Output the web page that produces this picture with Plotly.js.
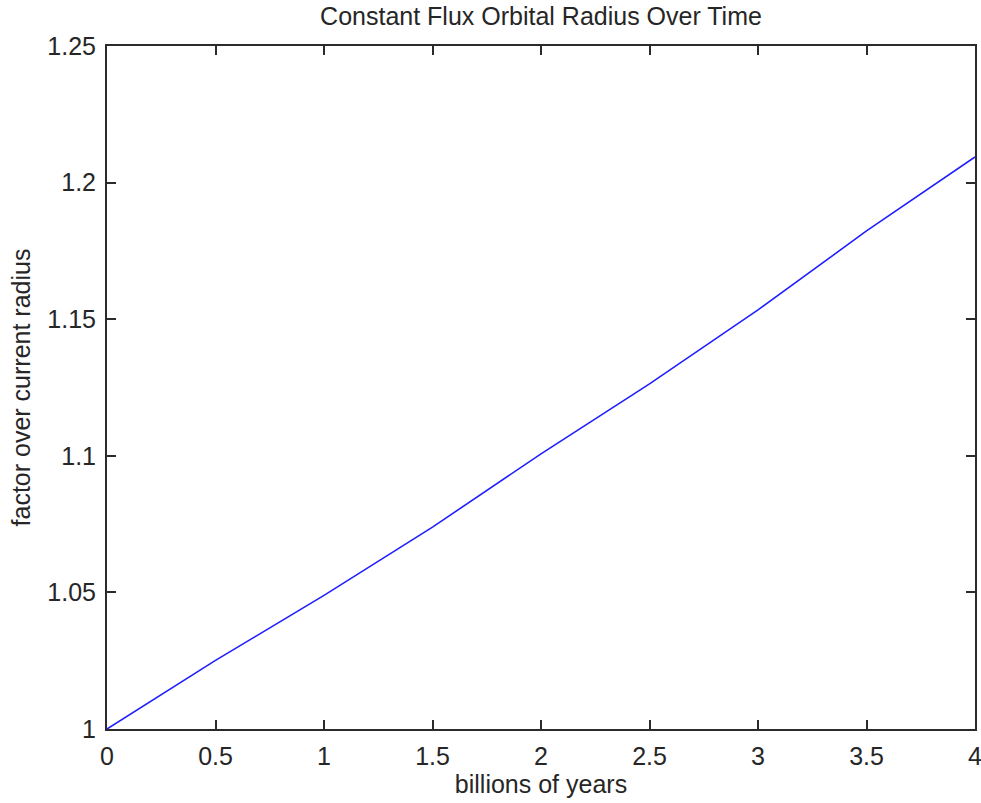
<!DOCTYPE html>
<html>
<head>
<meta charset="utf-8">
<script src="https://cdn.plot.ly/plotly-3.0.1.min.js"></script>
<style>
html,body{margin:0;padding:0;background:#fff;}
#chart{width:981px;height:803px;}
</style>
</head>
<body>
<div id="chart"></div>
<script>
// Data
const years = [0, 0.5, 1, 1.5, 2, 2.5, 3, 3.5, 4];
const radiusFactor = [1.0, 1.0251, 1.0489, 1.0739, 1.1007, 1.1263, 1.1534, 1.1823, 1.2094];
const xTickValues = [0, 0.5, 1, 1.5, 2, 2.5, 3, 3.5, 4];
const yTickValues = [1, 1.05, 1.1, 1.15, 1.2, 1.25];

const fontFamily = '"Liberation Sans", Arial, Helvetica, sans-serif';
const textColor = '#262626';
const axisColor = '#2b2b2b';

const trace = {
  x: years,
  y: radiusFactor,
  type: 'scatter',
  mode: 'lines',
  line: {color: '#1f1fff', width: 1.6},
  hoverinfo: 'skip',
  cliponaxis: false
};

const axisCommon = {
  showgrid: false,
  zeroline: false,
  showline: true,
  linecolor: axisColor,
  linewidth: 2,
  mirror: 'ticks',
  ticks: 'inside',
  ticklen: 9,
  tickwidth: 2,
  tickcolor: axisColor,
  tickfont: {family: fontFamily, size: 25, color: textColor},
  ticklabeloverflow: 'allow',
  fixedrange: true
};

const layout = {
  width: 981,
  height: 803,
  margin: {l: 107, r: 6, t: 46, b: 74, pad: 0},
  paper_bgcolor: '#ffffff',
  plot_bgcolor: '#ffffff',
  showlegend: false,
  title: {
    text: 'Constant Flux Orbital Radius Over Time',
    font: {family: fontFamily, size: 25, color: textColor},
    x: 0.5, xanchor: 'center', xref: 'paper',
    y: 1 - 16/803, yanchor: 'middle', yref: 'container'
  },
  xaxis: Object.assign({}, axisCommon, {
    range: [0, 4],
    tickmode: 'array',
    tickvals: xTickValues,
    ticktext: xTickValues.map(String),
    ticklabelstandoff: 4,
    title: {text: 'billions of years', font: {family: fontFamily, size: 25, color: textColor}, standoff: 4}
  }),
  yaxis: Object.assign({}, axisCommon, {
    range: [1, 1.25],
    tickmode: 'array',
    tickvals: yTickValues,
    ticktext: yTickValues.map(String),
    ticklabelstandoff: 4,
    title: {text: 'factor over current radius', font: {family: fontFamily, size: 25, color: textColor}, standoff: 10}
  })
};

Plotly.newPlot('chart', [trace], layout, {displayModeBar: false, staticPlot: true});
</script>
</body>
</html>
